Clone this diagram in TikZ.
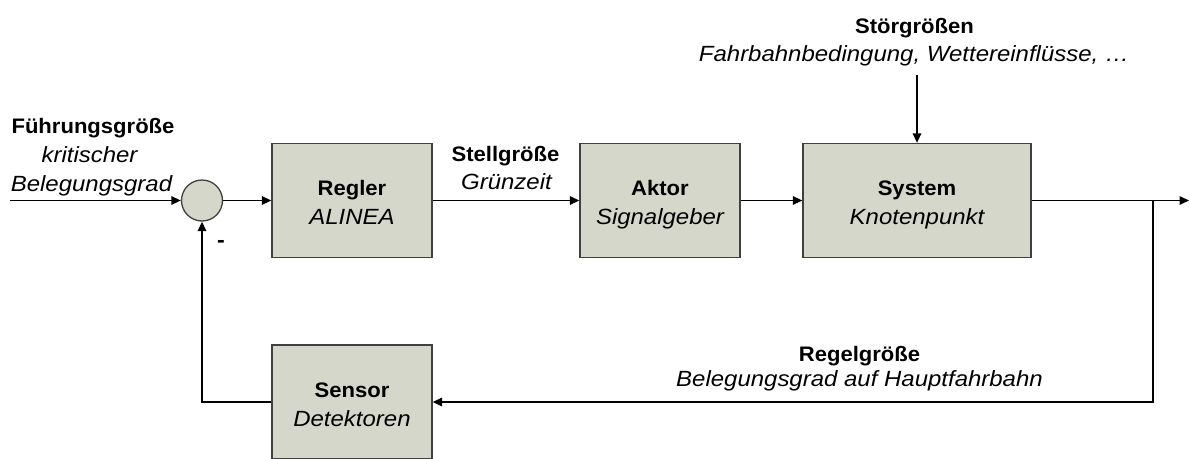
\documentclass[tikz,border=0pt]{standalone}
\usepackage{fontspec}
\setmainfont{Liberation Sans}[BoldFeatures={FakeStretch=1.05},ItalicFeatures={FakeStretch=1.09}]
\usetikzlibrary{arrows.meta,calc}
\definecolor{blockfill}{RGB}{214,215,203}
\definecolor{blockline}{RGB}{64,64,64}
\begin{document}
\begin{tikzpicture}[x=1pt,y=-1pt,
  block/.style={draw=blockline, line width=1.3pt, fill=blockfill,
    minimum width=160pt, minimum height=114pt, inner sep=0pt},
  sumpoint/.style={circle, draw=blockline, line width=1.3pt, fill=blockfill,
    minimum size=41pt, inner sep=0pt},
  title/.style={font=\fontsize{21}{29}\selectfont\bfseries, anchor=base, inner sep=0pt},
  note/.style={font=\fontsize{22}{29}\selectfont\itshape, anchor=base, inner sep=0pt},
  signal/.style={line width=1.5pt, -{Triangle[length=9.5pt,width=8.5pt]}},
  wire/.style={line width=1.5pt}]
\useasboundingbox (0,0) rectangle (1189,458);

% blocks of the control loop
\node[sumpoint] (sum) at (202,200.5) {};
\node[block] (regler) at (352,200.5) {};
\node[block] (aktor) at (660,200.5) {};
\node[block, minimum width=228pt] (system) at (917,200.5) {};
\node[block] (sensor) at (352,402) {};

% block captions
\node[title] (regler-t) at ($(regler.center)+(0,-5.5)$) {Regler};
\node[note]  (regler-s) at ($(regler.center)+(0,23.5)$) {ALINEA};
\node[title] (aktor-t) at ($(aktor.center)+(0,-5)$) {Aktor};
\node[note]  (aktor-s) at ($(aktor.center)+(0,24)$) {Signalgeber};
\node[title] (system-t) at ($(system.center)+(0,-5.5)$) {System};
\node[note]  (system-s) at ($(system.center)+(0,23.5)$) {Knotenpunkt};
\node[title] (sensor-t) at ($(sensor.center)+(0,-5)$) {Sensor};
\node[note]  (sensor-s) at ($(sensor.center)+(0,24)$) {Detektoren};

% signal names
\node[title] (fg-t)  at (93,133) {Führungsgröße};
\node[note]  (fg-s1) at (89.5,162.5) {kritischer};
\node[note]  (fg-s2) at (91.5,191.5) {Belegungsgrad};
\node[title] (sg-t) at (505.5,161.5) {Stellgröße};
\node[note]  (sg-s) at (506.5,189.3) {Grünzeit};
\node[title] (st-t) at (914.5,33) {Störgrößen};
\node[note]  (st-s) at (914,61.7) {Fahrbahnbedingung, Wettereinflüsse, …};
\node[title] (rg-t) at (859.5,361) {Regelgröße};
\node[note]  (rg-s) at (859.5,386.7) {Belegungsgrad auf Hauptfahrbahn};
\node[font=\fontsize{22}{29}\selectfont\bfseries, inner sep=0pt] (minus) at (221,244) {-};

% loose ends of the loop
\coordinate (in) at (10,200.5);
\coordinate (out) at (1189,200.5);
\coordinate (branch) at (1153,200.5);
\coordinate (dist) at (917,75);

% connectors
\draw[signal] (in) -- (sum);
\draw[signal] (sum) -- (regler);
\draw[signal] (regler) -- (aktor);
\draw[signal] (aktor) -- (system);
\draw[signal] (system) -- (out);
\draw[signal] (dist) -- (system);
\draw[signal] (branch) |- (sensor);
\draw[signal] (sensor) -| (sum);
\end{tikzpicture}
\end{document}
